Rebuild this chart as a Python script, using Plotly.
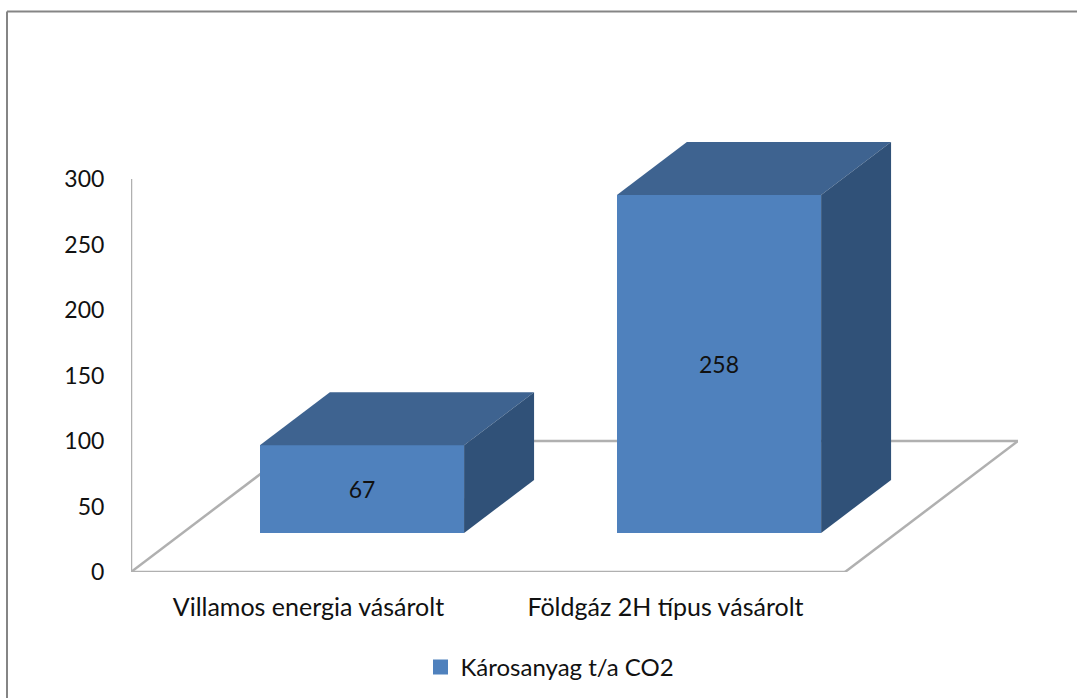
import plotly.graph_objects as go

categories = ["Villamos energia vásárolt", "Földgáz 2H típus vásárolt"]
values = [67, 258]
series_name = "Károsanyag t/a CO2"
y_ticks = [0, 50, 100, 150, 200, 250, 300]

FONT = "Lato, Carlito, Calibri, sans-serif"
FRONT, TOP, SIDE = "#4f81bd", "#3e6390", "#305178"
GRID = "#b0b0b0"

# Perspective of the fake 3D box, in axis units
bar_w = 0.572
lift = 29.8
dx, dy = 0.196, 40.5
floor_dx, floor_dy = 0.4846, 100
x0, x_full = -0.647, 2.0
xr = [x0, 1.8375]
yr = [0, 337.4]
L, R, T, B = 131, 59, 130, 126
W, H = 1077, 698
px = lambda v: (v - L) / (W - L - R)
py = lambda v: (H - B - v) / (H - T - B)

fig = go.Figure()
fig.add_trace(go.Bar(
    x=[0, 1], y=values, base=lift, width=bar_w, name=series_name,
    marker=dict(color=FRONT, line=dict(width=0)),
    text=[str(v) for v in values], textposition="inside", insidetextanchor="middle",
    textangle=0, textfont=dict(family=FONT, size=23, color="#111111"),
    constraintext="none", showlegend=False, hoverinfo="x+y",
))
fig.add_trace(go.Scatter(
    x=[None], y=[None], mode="markers", name=series_name,
    marker=dict(symbol="square", size=15, color=FRONT), showlegend=True, hoverinfo="skip",
))
for i, v in enumerate(values):
    l, r = i - bar_w / 2, i + bar_w / 2
    b, t = lift, lift + v
    fig.add_trace(go.Scatter(
        x=[l, r, r + dx, l + dx, l], y=[t, t, t + dy, t + dy, t],
        fill="toself", fillcolor=TOP, mode="lines", line=dict(width=0),
        showlegend=False, hoverinfo="skip"))
    fig.add_trace(go.Scatter(
        x=[r, r + dx, r + dx, r, r], y=[t, t + dy, b + dy, b, t],
        fill="toself", fillcolor=SIDE, mode="lines", line=dict(width=0),
        showlegend=False, hoverinfo="skip"))

line = dict(color=GRID, width=2.5)
x_end = x0 + x_full
shapes = [
    dict(type="line", layer="below", x0=x0, x1=x0, y0=0, y1=300, line=line),
    dict(type="line", layer="below", x0=x0, x1=x_end, y0=0, y1=0, line=line),
    dict(type="line", layer="below", x0=x0, x1=x0 + floor_dx, y0=0, y1=floor_dy, line=line),
    dict(type="line", layer="below", x0=x_end, x1=x_end + floor_dx, y0=0, y1=floor_dy, line=line),
    dict(type="line", layer="below", x0=x0 + floor_dx, x1=x_end + floor_dx, y0=floor_dy, y1=floor_dy, line=line),
    dict(type="line", layer="below", xref="paper", yref="paper", x0=px(7), x1=px(W), y0=py(11.5), y1=py(11.5),
         line=dict(color="#858585", width=2)),
    dict(type="line", layer="below", xref="paper", yref="paper", x0=px(7), x1=px(7), y0=py(11.5), y1=py(H),
         line=dict(color="#858585", width=2)),
]

fig.update_layout(
    width=W, height=H, autosize=False,
    margin=dict(l=L, r=R, t=T, b=B, pad=0, autoexpand=False),
    paper_bgcolor="white", plot_bgcolor="rgba(0,0,0,0)",
    font=dict(family=FONT, size=23, color="#111111"),
    shapes=shapes,
    xaxis=dict(range=xr, tickmode="array", tickvals=[i - 0.15 for i in range(len(categories))],
               ticktext=categories, showgrid=False, zeroline=False, showline=False,
               ticks="outside", ticklen=13, tickcolor="rgba(0,0,0,0)", fixedrange=True,
               tickfont=dict(family=FONT, size=25, color="#111111")),
    yaxis=dict(range=yr, tickmode="array", tickvals=y_ticks, showgrid=False, zeroline=False,
               showline=False, ticks="outside", ticklen=21, tickcolor="rgba(0,0,0,0)", fixedrange=True),
    legend=dict(x=px(420.5), y=py(645), xanchor="left", yanchor="top", bgcolor="rgba(0,0,0,0)",
                font=dict(family=FONT, size=24, color="#111111")),
    bargap=0,
)
fig.write_html("out.html", config={"displayModeBar": False},
               post_script="document.body.style.margin='0';")
